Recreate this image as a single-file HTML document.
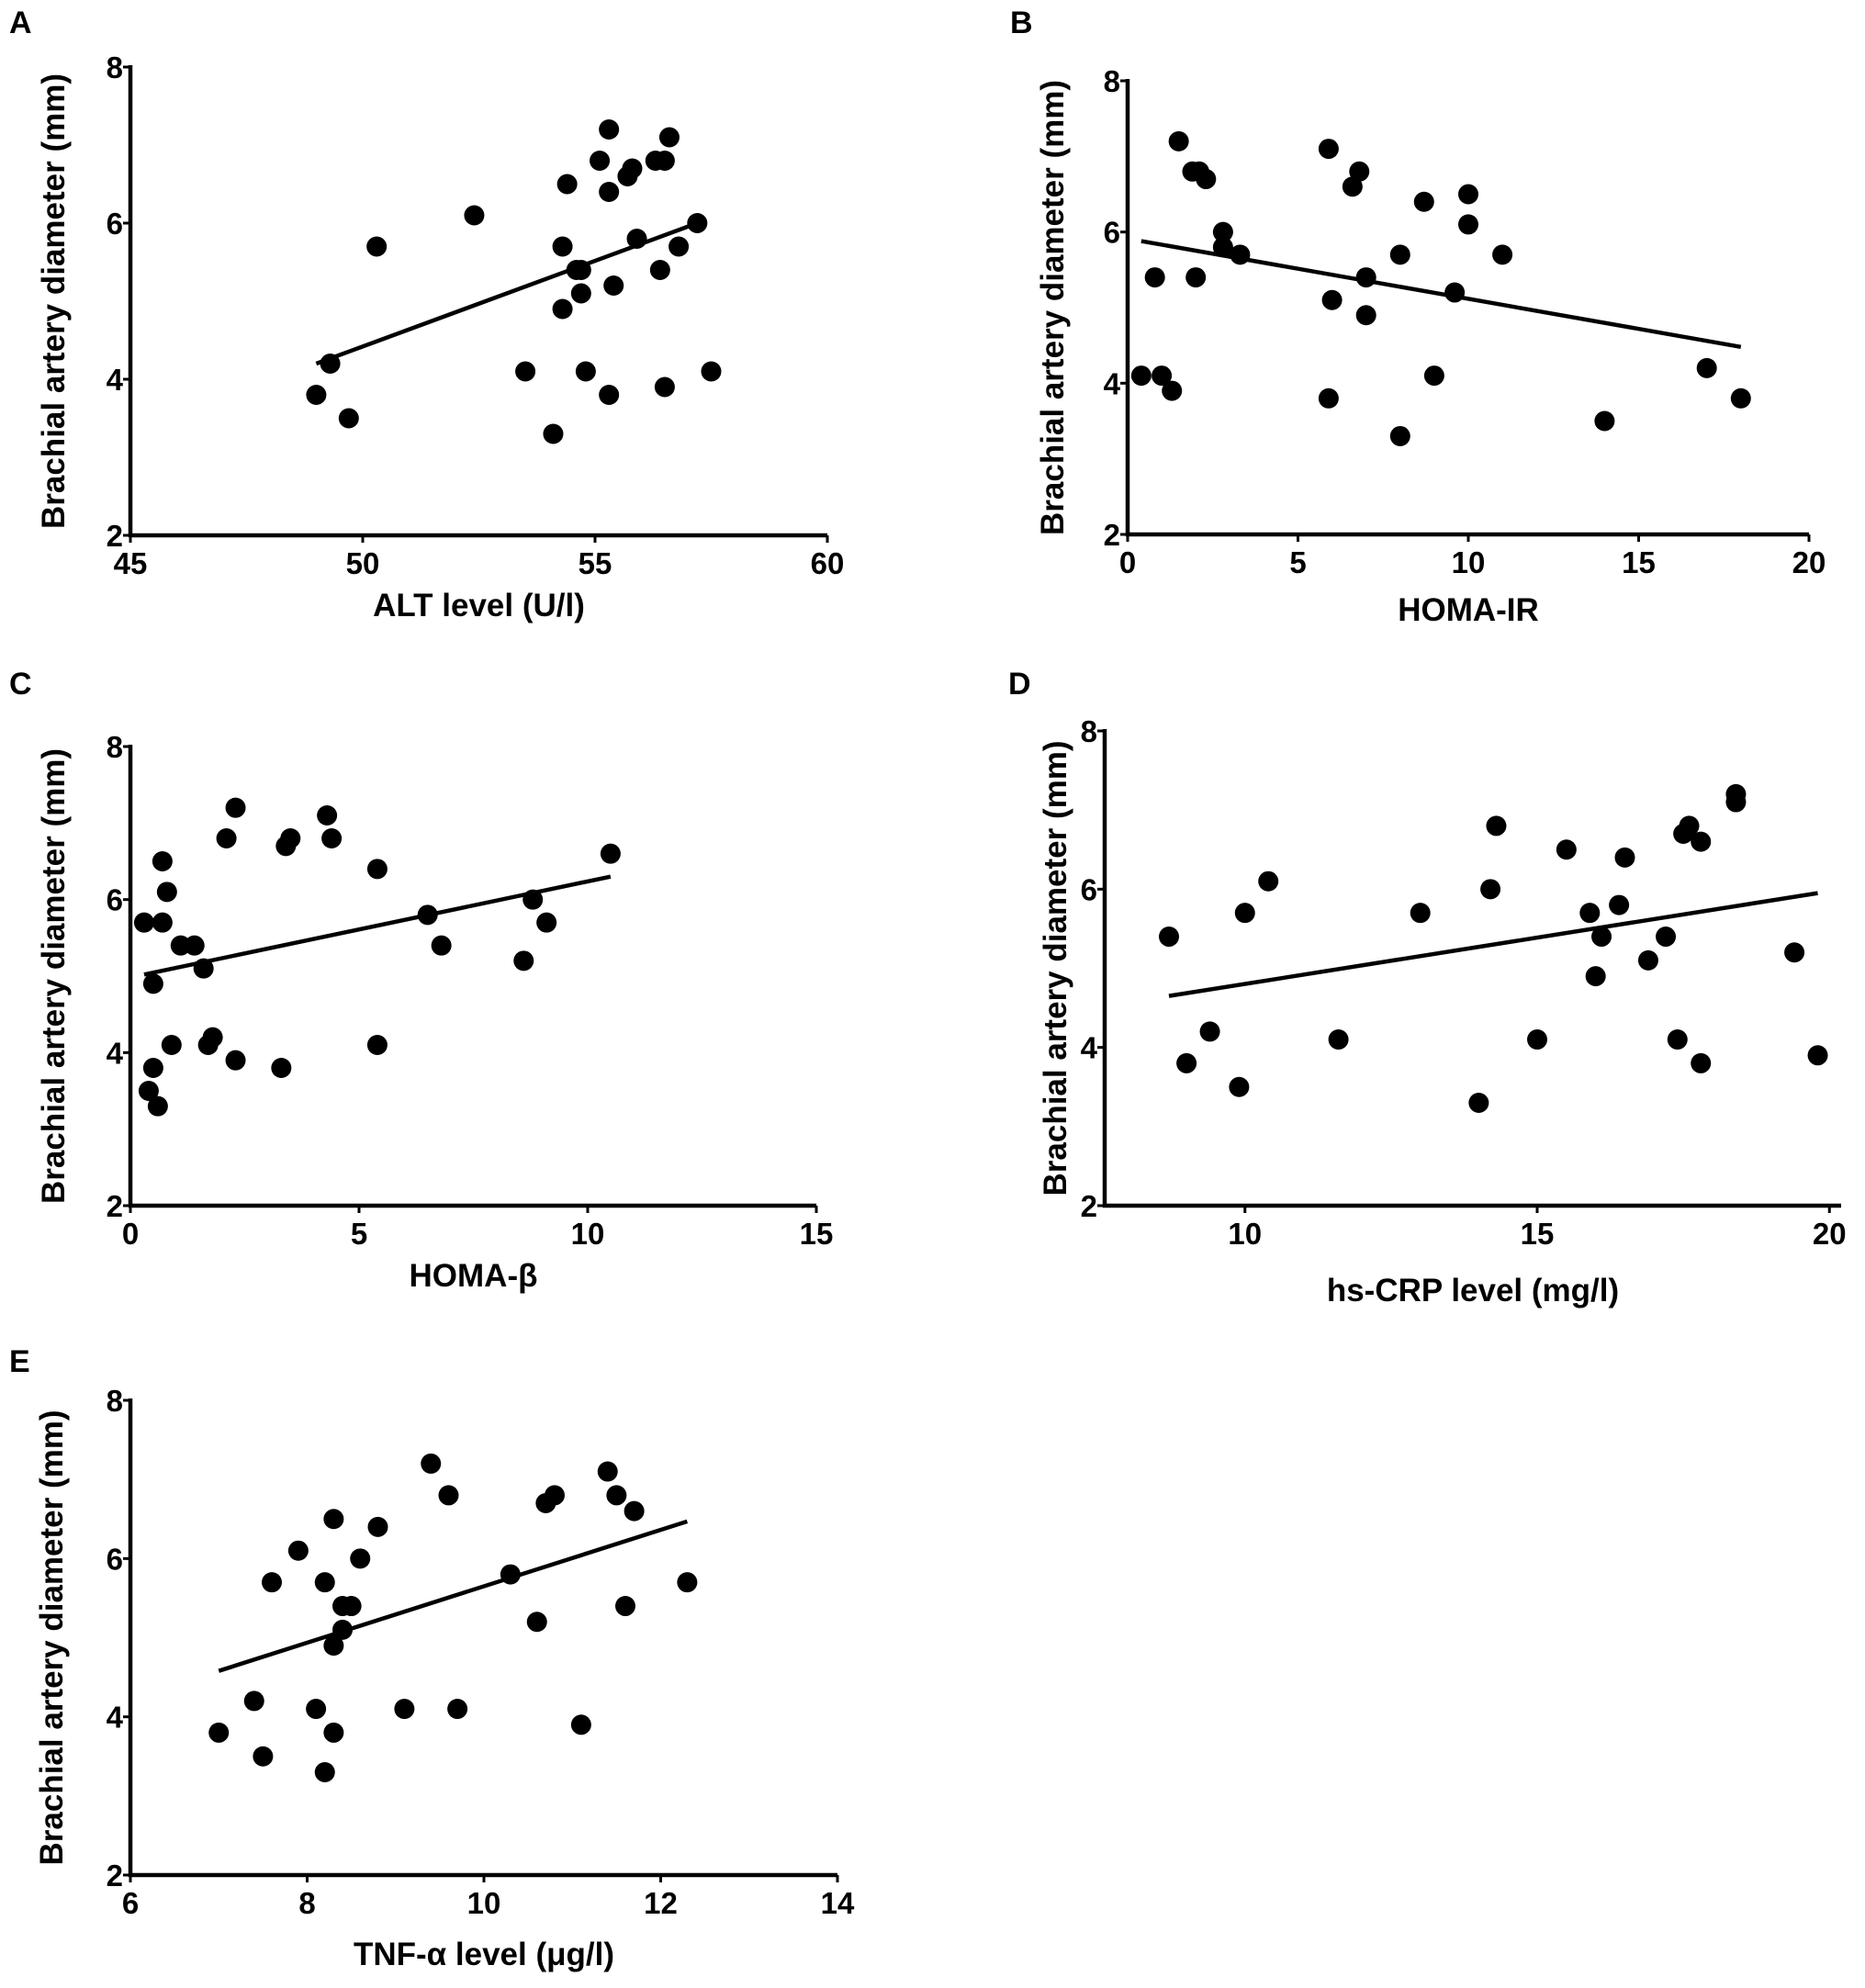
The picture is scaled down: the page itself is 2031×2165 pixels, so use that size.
<!DOCTYPE html>
<html><head><meta charset="utf-8"><style>
html,body{margin:0;padding:0;background:#fff;}
svg{display:block;font-family:"Liberation Sans",Arial,sans-serif;font-weight:bold;}
</style></head>
<body>
<svg id="fig" width="2031" height="2165" viewBox="0 0 2031 2165"></svg>
<script>
// Panel A
const aX=[49.0,49.3,49.7,50.3,52.4,53.5,54.1,54.3,54.3,54.4,54.6,54.7,54.7,54.8,55.1,55.3,55.3,55.3,55.4,55.7,55.8,55.9,56.3,56.4,56.5,56.5,56.6,56.8,57.2,57.5];
const aY=[3.8,4.2,3.5,5.7,6.1,4.1,3.3,5.7,4.9,6.5,5.4,5.4,5.1,4.1,6.8,7.2,6.4,3.8,5.2,6.6,6.7,5.8,6.8,5.4,6.8,3.9,7.1,5.7,6.0,4.1];
const aFitX=[49.0,57.2], aFitY=[4.2,6.0];
const aXTicks=[45,50,55,60];
// Panel B
const bX=[0.4,0.8,1.0,1.3,1.5,1.9,2.0,2.1,2.3,2.8,2.8,3.3,5.9,6.0,5.9,6.6,6.8,7.0,7.0,8.0,8.0,8.7,9.0,9.6,10.0,10.0,11.0,14.0,17.0,18.0];
const bY=[4.1,5.4,4.1,3.9,7.2,6.8,5.4,6.8,6.7,6.0,5.8,5.7,7.1,5.1,3.8,6.6,6.8,5.4,4.9,5.7,3.3,6.4,4.1,5.2,6.5,6.1,5.7,3.5,4.2,3.8];
const bFitX=[0.4,18.0], bFitY=[5.88,4.48];
const bXTicks=[0,5,10,15,20];
// Panel C
const cX=[0.3,0.4,0.5,0.5,0.6,0.7,0.7,0.8,0.9,1.1,1.4,1.6,1.7,1.8,2.1,2.3,2.3,3.3,3.4,3.5,4.3,4.4,5.4,5.4,6.5,6.8,8.6,8.8,9.1,10.5];
const cY=[5.7,3.5,4.9,3.8,3.3,6.5,5.7,6.1,4.1,5.4,5.4,5.1,4.1,4.2,6.8,7.2,3.9,3.8,6.7,6.8,7.1,6.8,6.4,4.1,5.8,5.4,5.2,6.0,5.7,6.6];
const cFitX=[0.3,10.5], cFitY=[5.02,6.3];
const cXTicks=[0,5,10,15];
// Panel D
const dX=[8.7,9.0,9.4,9.9,10.0,10.4,11.6,13.0,14.0,14.2,14.3,15.0,15.5,15.9,16.0,16.1,16.4,16.5,16.9,17.2,17.4,17.5,17.6,17.8,17.8,18.4,18.4,19.4,19.8];
const dY=[5.4,3.8,4.2,3.5,5.7,6.1,4.1,5.7,3.3,6.0,6.8,4.1,6.5,5.7,4.9,5.4,5.8,6.4,5.1,5.4,4.1,6.7,6.8,6.6,3.8,7.2,7.1,5.2,3.9];
const dFitX=[8.7,19.8], dFitY=[4.65,5.95];
const dXTicks=[10,15,20];
// Panel E
const eX=[7.0,7.4,7.5,7.6,7.9,8.1,8.2,8.2,8.3,8.3,8.3,8.4,8.4,8.5,8.6,8.8,9.1,9.4,9.6,9.7,10.3,10.6,10.7,10.8,11.1,11.4,11.5,11.6,11.7,12.3];
const eY=[3.8,4.2,3.5,5.7,6.1,4.1,5.7,3.3,6.5,4.9,3.8,5.4,5.1,5.4,6.0,6.4,4.1,7.2,6.8,4.1,5.8,5.2,6.7,6.8,3.9,7.1,6.8,5.4,6.6,5.7];
const eFitX=[7.0,12.3], eFitY=[4.58,6.47];
const eXTicks=[6,8,10,12,14];
const yTicks=[2,4,6,8];

const NS='http://www.w3.org/2000/svg';
const fig=document.getElementById('fig');
function mk(tag,attrs,parent){const e=document.createElementNS(NS,tag);for(const k in attrs)e.setAttribute(k,attrs[k]);(parent||fig).appendChild(e);return e;}

function panel(id,letter,lx,ly,L,R,T,B,xmin,xmax,xs,ys,fx,fy,xt,xtitle,titleOff,yOff){
  const g=mk('g',{});
  
  
  const sx=v=>L+(v-xmin)/(xmax-xmin)*(R-L);
  const sy=v=>B-(v-2)/6*(B-T);
  const lt=mk('text',{x:lx,y:ly,'font-size':34},g);lt.textContent=letter;
  
  
  const ya=mk('line',{x1:L,y1:T-2,x2:L,y2:B+2,stroke:'#000','stroke-width':4.5},g);
  
  
  const xa=mk('line',{x1:L-2,y1:B,x2:R,y2:B,stroke:'#000','stroke-width':4.5},g);
  
  
  yTicks.forEach(v=>{
    mk('line',{x1:L-8,y1:sy(v),x2:L,y2:sy(v),stroke:'#000','stroke-width':3},g);
    const t=mk('text',{x:L-8,y:sy(v)+12,'font-size':33,'text-anchor':'end'},g);t.textContent=v;
    
    
  });
  xt.forEach(v=>{
    mk('line',{x1:sx(v),y1:B,x2:sx(v),y2:B+8,stroke:'#000','stroke-width':3},g);
    const t=mk('text',{x:sx(v),y:B+42,'font-size':33,'text-anchor':'middle'},g);t.textContent=v;
    
    
  });
  const yt=mk('text',{x:0,y:0,'font-size':35,'text-anchor':'middle',transform:'translate('+(L-yOff)+','+((T+B)/2)+') rotate(-90)'},g);
  yt.textContent='Brachial artery diameter (mm)';
  
  
  const xtt=mk('text',{x:(L+R)/2,y:B+titleOff,'font-size':35,'text-anchor':'middle'},g);
  xtt.textContent=xtitle;
  
  
  const fl=mk('line',{x1:sx(fx[0]),y1:sy(fy[0]),x2:sx(fx[1]),y2:sy(fy[1]),stroke:'#000','stroke-width':4.5},g);
  
  
  xs.forEach((v,i)=>{
    const c=mk('circle',{cx:sx(v),cy:sy(ys[i]),r:11,fill:'#000'},g);
    
    
  });
}
panel('a','A',10,36,142,901,73,583,45,60,aX,aY,aFitX,aFitY,aXTicks,'ALT level (U/l)',88,72);
panel('b','B',1100,36,1228,1970,88,582,0,20,bX,bY,bFitX,bFitY,bXTicks,'HOMA-IR',94,70);
panel('c','C',10,756,142,889,813,1313,0,15,cX,cY,cFitX,cFitY,cXTicks,'HOMA-β',88,72);
panel('d','D',1098,756,1203,2005,796,1313,7.6,20.2,dX,dY,dFitX,dFitY,dXTicks,'hs-CRP level (mg/l)',104,42);
panel('e','E',10,1494,142,912,1525,2042,6,14,eX,eY,eFitX,eFitY,eXTicks,'TNF-α level (μg/l)',98,74);
</script>
</body></html>
